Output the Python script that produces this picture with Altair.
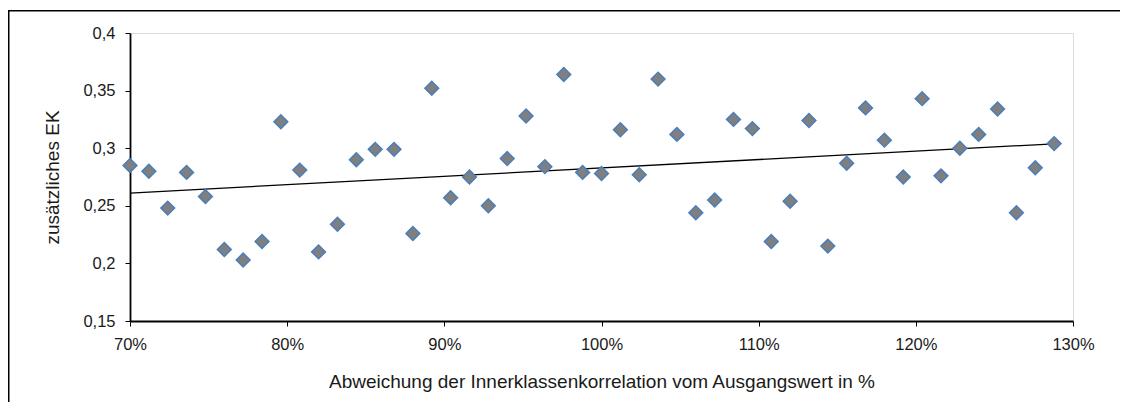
import altair as alt
import pandas as pd

# x: deviation of intra-class correlation from base value (share), 50 steps of 1.2 %
x_vals = [0.700, 0.712, 0.724, 0.736, 0.748, 0.760, 0.772, 0.784, 0.796, 0.808,
          0.820, 0.832, 0.844, 0.856, 0.868, 0.880, 0.892, 0.904, 0.916, 0.928,
          0.940, 0.952, 0.964, 0.976, 0.988, 1.000, 1.012, 1.024, 1.036, 1.048,
          1.060, 1.072, 1.084, 1.096, 1.108, 1.120, 1.132, 1.144, 1.156, 1.168,
          1.180, 1.192, 1.204, 1.216, 1.228, 1.240, 1.252, 1.264, 1.276, 1.288]
y_vals = [0.285, 0.280, 0.248, 0.279, 0.258, 0.212, 0.203, 0.219, 0.323, 0.281,
          0.210, 0.234, 0.290, 0.299, 0.299, 0.226, 0.352, 0.257, 0.275, 0.250,
          0.291, 0.328, 0.284, 0.364, 0.279, 0.278, 0.316, 0.277, 0.360, 0.312,
          0.244, 0.255, 0.325, 0.317, 0.219, 0.254, 0.324, 0.215, 0.287, 0.335,
          0.307, 0.275, 0.343, 0.276, 0.300, 0.312, 0.334, 0.244, 0.283, 0.304]

x_ticks = [0.7, 0.8, 0.9, 1.0, 1.1, 1.2, 1.3]
y_ticks = [0.15, 0.2, 0.25, 0.3, 0.35, 0.4]

df = pd.DataFrame({"x": x_vals, "y": y_vals})

FONT = "Liberation Sans"

x_enc = alt.X(
    "x:Q",
    scale=alt.Scale(domain=[0.7, 1.3], nice=False, zero=False),
    axis=alt.Axis(
        values=x_ticks, format=".0%", title="Abweichung der Innerklassenkorrelation  vom Ausgangswert in %",
        grid=False, domainColor="black", domainWidth=1.8, tickColor="black", tickSize=5,
        labelFlush=False,
        labelPadding=10, labelFontSize=16.5, titleFontSize=19, titleFontWeight="normal",
        labelColor="#1a1a1a", titleColor="#1a1a1a", titlePadding=20, labelFont=FONT, titleFont=FONT,
    ),
)
y_enc = alt.Y(
    "y:Q",
    scale=alt.Scale(domain=[0.15, 0.4], nice=False, zero=False),
    axis=alt.Axis(
        values=y_ticks, labelExpr="replace(format(datum.value, '.2~f'), '.', ',')",
        title="zusätzliches EK", labelFlush=False,
        grid=False, domainColor="black", domainWidth=1.8, tickColor="black", tickSize=5,
        labelPadding=10, labelFontSize=16.5, titleFontSize=19, titleFontWeight="normal",
        labelColor="#1a1a1a", titleColor="#1a1a1a", titlePadding=20, labelFont=FONT, titleFont=FONT,
    ),
)

points = alt.Chart(df).mark_point(
    shape="diamond", filled=True, size=190, color="#7f7f7f",
    stroke="#4a7ebb", strokeWidth=1.5, opacity=1,
).encode(x=x_enc, y=y_enc)

trend = alt.Chart(df).transform_regression(
    "x", "y", method="linear"
).mark_line(color="black", strokeWidth=1.3).encode(x=x_enc, y=y_enc)

frame = alt.Chart(df).mark_rect(
    fill=None, stroke="black", strokeWidth=1.5, clip=False
).encode(
    x=alt.value(-121.25), x2=alt.value(1010), y=alt.value(-22.25), y2=alt.value(390)
).transform_filter("datum.x == 0.7")

chart = alt.layer(frame, trend, points).properties(
    width=943, height=288,
    padding={"left": 122, "top": 25, "right": 47, "bottom": 81},
    autosize=alt.AutoSizeParams(type="none"),
).configure_view(stroke=None).configure(background="white")

chart.save("out.html", embed_options={"renderer": "svg", "actions": False})
